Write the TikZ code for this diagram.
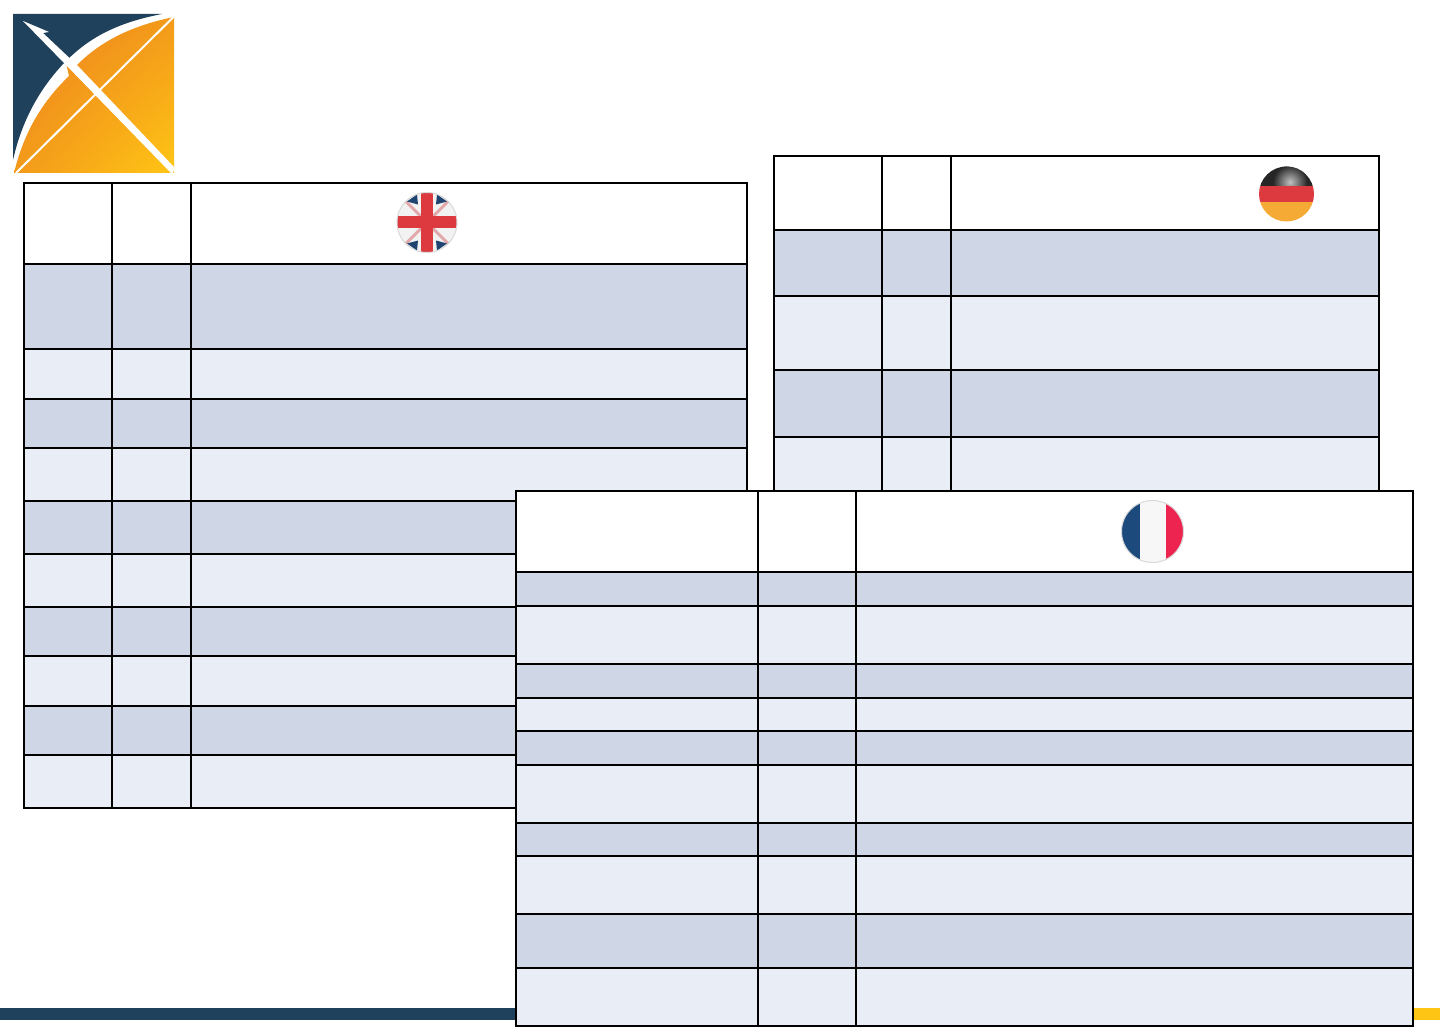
\documentclass[tikz,border=0pt]{standalone}
\usepackage{tikz}
\usetikzlibrary{shadings}
\definecolor{navy}{HTML}{1F415C}
\definecolor{gold}{HTML}{FFC515}
\definecolor{orangeA}{HTML}{EC8020}
\definecolor{orangeB}{HTML}{F39A1A}
\definecolor{banddark}{HTML}{CFD7E6}
\definecolor{bandlight}{HTML}{E9EDF5}
\definecolor{flagred}{HTML}{DD3A40}
\definecolor{flagpink}{HTML}{E2A9AC}
\definecolor{flagblue}{HTML}{1F4470}
\definecolor{flaggold}{HTML}{F5AA35}
\definecolor{frblue}{HTML}{1D4A7D}
\definecolor{frred}{HTML}{EE2450}
\tikzstyle{head}=[fill=white]
\tikzstyle{dark}=[fill=banddark]
\tikzstyle{light}=[fill=bandlight]
\tikzstyle{rule}=[draw=black,line width=2pt]
\tikzstyle{flagedge}=[draw=black!15,line width=1pt]
\begin{document}
\begin{tikzpicture}[x=1pt,y=-1pt]
    \useasboundingbox (0,0) rectangle (1440,1027);

    % Footer bar
    \fill[navy] (0,1008) rectangle (516,1020);
    \fill[gold] (1413,1008) rectangle (1440,1020);

    % Logo
    \fill[navy] (13,14) -- (162,14) .. controls (110,24) and (85,42) .. (65,62)
        .. controls (40,88) and (22,120) .. (13,160) -- cycle;
    \shade[upper left=orangeA,upper right=orangeB,lower left=orangeB,lower right=gold]
        (174,17) .. controls (130,26) and (100,42) .. (77,65) -- (66,63) -- (69,76)
        .. controls (42,102) and (24,132) .. (14,173) -- (174,173) -- cycle;
    \fill[white] (23,21) -- (49,32) -- (43,33) -- (78,66) -- (174,167) -- (174,169)
        -- (173,173) -- (171,173) -- (66,65) -- cycle;
    \draw[white,line width=2pt] (173.5,17) -- (16,173);

    % UK table
    \foreach \ya/\yb/\band in {183/264/head, 264/349/dark, 349/399/light, 399/448/dark, 448/501/light,
        501/554/dark, 554/607/light, 607/656/dark, 656/706/light, 706/755/dark, 755/808/light}
        \path[\band] (24,\ya) rectangle (747,\yb);
    \foreach \y in {264,349,399,448,501,554,607,656,706,755}
        \path[rule] (24,\y) -- (747,\y);
    \foreach \x in {112,191}
        \path[rule] (\x,183) -- (\x,808);
    \path[rule] (24,183) rectangle (747,808);

    % UK flag
    \begin{scope}
        \clip (427,222.5) circle (30);
        \fill[white!95!black] (397,192) rectangle (457,253);
        \foreach \sx in {1,-1}
            \draw[flagpink,line width=3pt] (427-\sx*30,222.5-30) -- (427+\sx*30,222.5+30);
        \foreach \sx/\sy in {1/1,-1/1,1/-1,-1/-1}
            \fill[flagblue] (427+\sx*10,222.5+\sy*28) -- (427+\sx*9,222.5+\sy*18) -- (427+\sx*20,222.5+\sy*21) -- cycle;
        \fill[flagred] (421,192) rectangle (433,253);
        \fill[flagred] (397,216) rectangle (457,228);
    \end{scope}
    \path[flagedge] (427,222.5) circle (30);

    % German table
    \foreach \ya/\yb/\band in {156/230/head, 230/296/dark, 296/370/light, 370/437/dark, 437/492/light}
        \path[\band] (774,\ya) rectangle (1379,\yb);
    \foreach \y in {230,296,370,437}
        \path[rule] (774,\y) -- (1379,\y);
    \foreach \x in {882,951}
        \path[rule] (\x,156) -- (\x,492);
    \path[rule] (774,492) -- (774,156) -- (1379,156) -- (1379,492);

    % German flag
    \begin{scope}
        \clip (1286.5,194) circle (27.5);
        \fill[black!85] (1259,166) rectangle (1314,186);
        \shade[inner color=white!75!black,outer color=black!85] (1290,182) circle (17);
        \fill[flagred] (1259,186) rectangle (1314,202);
        \fill[flaggold] (1259,202) rectangle (1314,222);
    \end{scope}

    % French table
    \foreach \ya/\yb/\band in {491/572/head, 572/606/dark, 606/664/light, 664/698/dark, 698/731/light,
        731/765/dark, 765/823/light, 823/856/dark, 856/914/light, 914/968/dark, 968/1026/light}
        \path[\band] (516,\ya) rectangle (1413,\yb);
    \foreach \y in {572,606,664,698,731,765,823,856,914,968}
        \path[rule] (516,\y) -- (1413,\y);
    \foreach \x in {758,856}
        \path[rule] (\x,491) -- (\x,1026);
    \path[rule] (516,491) rectangle (1413,1026);

    % French flag
    \begin{scope}
        \clip (1152.5,531.5) circle (31);
        \fill[white!97!black] (1121,500) rectangle (1184,563);
        \fill[frblue] (1121,500) rectangle (1140,563);
        \fill[frred] (1166,500) rectangle (1184,563);
    \end{scope}
    \path[flagedge] (1152.5,531.5) circle (31);
\end{tikzpicture}
\end{document}
